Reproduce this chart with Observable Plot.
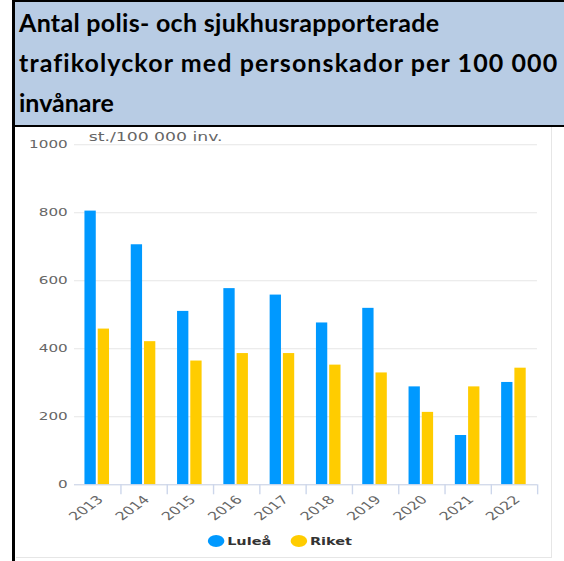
<!DOCTYPE html>
<html>
<head>
<meta charset="utf-8">
<script src="https://cdn.jsdelivr.net/npm/d3@7"></script>
<script src="https://cdn.jsdelivr.net/npm/@observablehq/plot@0.6"></script>
<style>
  html, body { margin: 0; padding: 0; background: #fff; overflow: hidden; }
  #wrap { position: absolute; left: 12px; top: 0; width: 552px; height: 561px; border-left: 3px solid #000; }
  #title {
    background: #b8cce4; border-top: 2px solid #000; border-bottom: 2px solid #000;
    height: 123px; padding-left: 4px; box-sizing: content-box;
    font-family: Lato, "Open Sans", sans-serif; font-weight: 700; font-size: 25px; line-height: 40px;
    color: #000; white-space: nowrap; overflow: hidden;
  }
  #title .l1 { letter-spacing: 0.3px; }
  #title .l2 { letter-spacing: 1.1px; }
  #panel { position: relative; margin-left: 1px; width: 535px; height: 430px; border-right: 1px solid #e6e6e6; border-bottom: 1px solid #e6e6e6; background: #fff; }
  #inner { position: absolute; left: 0; top: 0; width: 388px; height: 430px; transform: scaleX(1.38); transform-origin: 0 0; }
  #legend { position: absolute; left: 0; top: 406px; width: 388px; height: 16px; display: flex; align-items: center; padding-left: 139px; box-sizing: border-box;
    font-family: "DejaVu Sans", sans-serif; font-weight: 700; font-size: 10.5px; color: #333; }
  .item { display: flex; align-items: center; margin-right: 14px; }
  .dot { width: 12px; height: 12px; border-radius: 50%; margin-right: 2px; }
</style>
</head>
<body>
<div id="wrap">
  <div id="title"><span class="l1">Antal polis- och sjukhusrapporterade</span><br><span class="l2">trafikolyckor med personskador per 100 000</span><br><span class="l3">invånare</span></div>
  <div id="panel"><div id="inner"><div id="chart"></div><div id="legend"></div></div></div>
</div>
<script>
const years = ["2013", "2014", "2015", "2016", "2017", "2018", "2019", "2020", "2021", "2022"];
const lulea = [805, 706, 510, 577, 558, 476, 519, 288, 145, 301];
const riket = [458, 421, 364, 386, 386, 352, 329, 213, 288, 343];
const seriesNames = ["Luleå", "Riket"];
const seriesColors = ["#0099ff", "#ffcc00"];
const yTicks = [0, 200, 400, 600, 800, 1000];
const yUnit = "st./100 000 inv.";

const table = years.map((year, i) => ({year, lulea: lulea[i], riket: riket[i]}));

const step = (388 - 42 - 10.5) / years.length;

const chart = Plot.plot({
  width: 388,
  height: 400,
  marginLeft: 42,
  marginRight: 10.5,
  marginTop: 17.3,
  marginBottom: 42.7,
  style: {fontFamily: "'DejaVu Sans', sans-serif", fontSize: "11px", background: "transparent", overflow: "visible"},
  x: {type: "band", domain: years, padding: 0, round: false},
  y: {domain: [0, 1000]},
  marks: [
    Plot.ruleY(yTicks, {stroke: "#e6e6e6"}),
    Plot.barY(table, {x: "year", y: "lulea", fill: seriesColors[0], insetLeft: 7.6, insetRight: 17.75}),
    Plot.barY(table, {x: "year", y: "riket", fill: seriesColors[1], insetLeft: 17.2, insetRight: 8.15}),
    Plot.ruleY([0], {stroke: "#ccd6eb"}),
    Plot.axisX({tickSize: 10, dx: step / 2, text: null, stroke: "#ccd6eb", label: null}),
    Plot.axisX({tickSize: 0, tickRotate: -45, tickPadding: 13, dx: 2, fill: "#666", fontSize: 11.5, label: null}),
    Plot.axisY({ticks: yTicks, tickSize: 0, tickPadding: 5, tickFormat: d3.format("d"), fill: "#666", fontSize: 11, label: null}),
    Plot.text([yUnit], {frameAnchor: "top-left", dx: 10.2, dy: -4, text: d => d, textAnchor: "start", lineAnchor: "bottom", fill: "#666", fontSize: 12.5})
  ]
});
document.getElementById("chart").appendChild(chart);

const legend = document.getElementById("legend");
seriesNames.forEach((name, i) => {
  const item = document.createElement("div");
  item.className = "item";
  const dot = document.createElement("span");
  dot.className = "dot";
  dot.style.background = seriesColors[i];
  const label = document.createElement("span");
  label.textContent = name;
  item.appendChild(dot);
  item.appendChild(label);
  legend.appendChild(item);
});
</script>
</body>
</html>
